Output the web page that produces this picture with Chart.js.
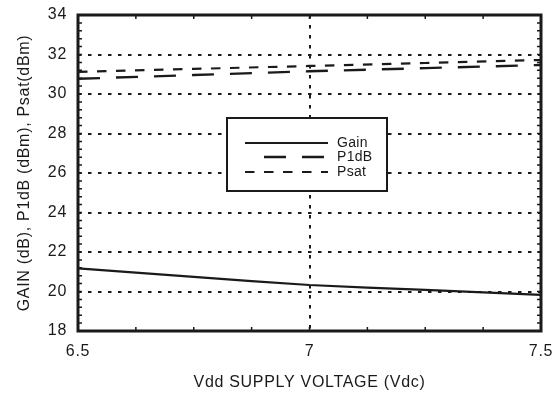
<!DOCTYPE html>
<html>
<head>
<meta charset="utf-8">
<script src="https://cdn.jsdelivr.net/npm/chart.js@4"></script>
<style>
html,body{margin:0;padding:0;background:#fff;}
#wrap{width:557px;height:398px;position:relative;}
</style>
</head>
<body>
<div id="wrap"><canvas id="c" width="557" height="398"></canvas></div>
<script>
// Data
const voltage = [6.5, 6.75, 7.0, 7.25, 7.5];
const gain    = [21.17, 20.74, 20.33, 20.08, 19.83];
const p1db    = [30.77, 30.96, 31.15, 31.31, 31.47];
const psat    = [31.12, 31.27, 31.42, 31.57, 31.72];
const seriesNames = ['Gain', 'P1dB', 'Psat'];
const xTicks = [6.5, 7, 7.5];
const yTicks = [18, 20, 22, 24, 26, 28, 30, 32, 34];
const xTitle = 'Vdd SUPPLY VOLTAGE (Vdc)';
const yTitle = 'GAIN (dB), P1dB (dBm), Psat(dBm)';

const FONT = "'Liberation Sans', Arial, Helvetica, sans-serif";
const INK = '#1a1a1a';
const LS = '0.7px';

function pts(ys){ return voltage.map((v,i)=>({x:v,y:ys[i]})); }

const spacing = {
  id:'spacing',
  beforeLayout(chart){ chart.ctx.letterSpacing = LS; },
  beforeDraw(chart){ chart.ctx.letterSpacing = LS; }
};

const minorTicks = {
  id:'minorTicks',
  afterDatasetsDraw(chart){
    const {ctx, chartArea:a, scales:{x,y}} = chart;
    ctx.save();
    ctx.strokeStyle = INK; ctx.lineWidth = 1.5;
    const L = 4;
    for(let v=6.5; v<=7.5001; v+=0.125){
      const px = x.getPixelForValue(v);
      ctx.beginPath();
      ctx.moveTo(px,a.top); ctx.lineTo(px,a.top+L);
      ctx.moveTo(px,a.bottom); ctx.lineTo(px,a.bottom-L);
      ctx.stroke();
    }
    for(let v=18; v<=34.001; v+=0.4){
      const py = y.getPixelForValue(v);
      ctx.beginPath();
      ctx.moveTo(a.left,py); ctx.lineTo(a.left+L,py);
      ctx.moveTo(a.right,py); ctx.lineTo(a.right-L,py);
      ctx.stroke();
    }
    ctx.lineWidth = 3;
    ctx.strokeRect(a.left, a.top, a.right-a.left, a.bottom-a.top);
    ctx.restore();
  }
};

const boxLegend = {
  id:'boxLegend',
  afterDraw(chart){
    const ctx = chart.ctx;
    const bx=227, by=118, bw=160, bh=73;
    ctx.save();
    ctx.letterSpacing = '0.3px';
    ctx.fillStyle='#fff';
    ctx.fillRect(bx,by,bw,bh);
    ctx.strokeStyle=INK; ctx.lineWidth=2;
    ctx.strokeRect(bx,by,bw,bh);
    const rows = [
      {y:143, x0:245, x1:328},
      {y:157, x0:264, x1:324},
      {y:172, x0:245, x1:328}
    ];
    chart.data.datasets.forEach((ds,i)=>{
      const r = rows[i];
      ctx.beginPath();
      ctx.setLineDash(ds.borderDash||[]);
      ctx.lineWidth = ds.borderWidth;
      ctx.strokeStyle = ds.borderColor;
      ctx.moveTo(r.x0,r.y); ctx.lineTo(r.x1,r.y);
      ctx.stroke();
      ctx.setLineDash([]);
      ctx.fillStyle = INK;
      ctx.font = '14px ' + FONT;
      ctx.textBaseline='middle';
      ctx.textAlign='left';
      ctx.fillText(ds.label, 337, r.y);
    });
    ctx.restore();
  }
};

new Chart(document.getElementById('c'), {
  type:'line',
  data:{
    datasets:[
      {label:seriesNames[0], data:pts(gain), borderColor:INK, borderWidth:2.2, borderDash:[], pointRadius:0, tension:0.2, fill:false},
      {label:seriesNames[1], data:pts(p1db), borderColor:INK, borderWidth:2.4, borderDash:[22,16], pointRadius:0, tension:0, fill:false},
      {label:seriesNames[2], data:pts(psat), borderColor:INK, borderWidth:2.2, borderDash:[9.5,9.5], pointRadius:0, tension:0, fill:false}
    ]
  },
  options:{
    responsive:false,
    animation:false,
    layout:{padding:0},
    plugins:{legend:{display:false}, tooltip:{enabled:false}},
    scales:{
      x:{
        type:'linear', min:6.5, max:7.5,
        afterBuildTicks(s){ s.ticks = xTicks.map(v=>({value:v})); },
        afterFit(s){ s.height = 67; s.paddingLeft = 0; s.paddingRight = 16; },
        grid:{color:INK, lineWidth:2, drawTicks:false},
        border:{display:false, dash:[3.5,6.5]},
        ticks:{padding:11, color:INK, font:{family:FONT,size:16}, maxRotation:0, autoSkip:false, callback:v=>String(v)},
        title:{display:true, text:xTitle, color:INK, font:{family:FONT,size:16}, padding:{top:0,bottom:6}}
      },
      y:{
        type:'linear', min:18, max:34,
        afterBuildTicks(s){ s.ticks = yTicks.map(v=>({value:v})); },
        afterFit(s){ s.width = 78; s.paddingTop = 15; s.paddingBottom = 0; },
        grid:{color:INK, lineWidth:2, drawTicks:false},
        border:{display:false, dash:[3.5,6.5]},
        ticks:{padding:11, color:INK, font:{family:FONT,size:16}, autoSkip:false},
        title:{display:true, text:yTitle, color:INK, font:{family:FONT,size:16}, padding:{top:15,bottom:0}}
      }
    }
  },
  plugins:[spacing, minorTicks, boxLegend]
});
</script>
</body>
</html>
